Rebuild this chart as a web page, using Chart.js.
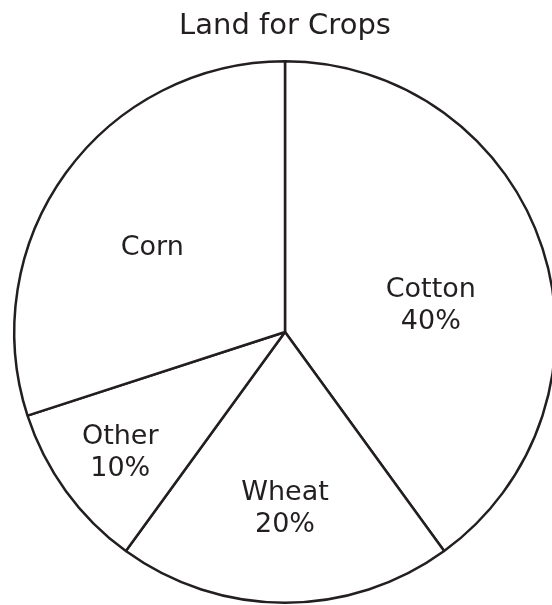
<!DOCTYPE html>
<html>
<head>
<meta charset="utf-8">
<script src="https://cdn.jsdelivr.net/npm/chart.js@4"></script>
<style>
  html, body { margin: 0; padding: 0; background: #fff; overflow: hidden; }
  #wrap { width: 570px; height: 605px; }
</style>
</head>
<body>
<div id="wrap"><canvas id="cropChart" width="570" height="605"></canvas></div>
<script>
// data
const crops = ['Cotton', 'Wheat', 'Other', 'Corn'];
const shares = [40, 20, 10, 30];
const showPercent = [true, true, true, false];

// label placement: shift from the slice's middle angle (deg) and distance as part of the radius
const labelShift = [7.9, 0, -0.4, -3.7];
const labelRadius = [0.547, 0.655, 0.756, 0.58];

const ink = '#231f20';

// draw the slice names inside the pie
const sliceLabels = {
    id: 'sliceLabels',
    afterDatasetsDraw(chart) {
        const ctx = chart.ctx;
        const arcs = chart.getDatasetMeta(0).data;
        ctx.save();
        ctx.fillStyle = ink;
        ctx.font = '27px "DejaVu Sans"';
        ctx.textAlign = 'center';
        ctx.textBaseline = 'middle';
        arcs.forEach(function (arc, i) {
            const p = arc.getProps(['x', 'y', 'startAngle', 'endAngle', 'outerRadius'], true);
            const mid = (p.startAngle + p.endAngle) / 2 + labelShift[i] * Math.PI / 180;
            const r = p.outerRadius * labelRadius[i];
            const x = p.x + Math.cos(mid) * r;
            const y = p.y + Math.sin(mid) * r;
            if (showPercent[i]) {
                ctx.fillText(crops[i], x, y - 16);
                ctx.fillText(shares[i] + '%', x, y + 16);
            } else {
                ctx.fillText(crops[i], x, y);
            }
        });
        ctx.restore();
    }
};

new Chart(document.getElementById('cropChart').getContext('2d'), {
    type: 'pie',
    data: {
        labels: crops,
        datasets: [{
            data: shares,
            backgroundColor: '#ffffff',
            borderColor: ink,
            borderWidth: 2.5,
            borderAlign: 'center'
        }]
    },
    options: {
        responsive: false,
        animation: false,
        events: [],
        layout: { padding: { left: 13, right: 13, top: 0, bottom: 1 } },
        plugins: {
            legend: { display: false },
            tooltip: { enabled: false },
            title: {
                display: true,
                text: 'Land for Crops',
                color: ink,
                font: { family: '"DejaVu Sans"', size: 29, weight: 'normal', lineHeight: 1.2 },
                padding: { top: 9, bottom: 16.2 }
            }
        }
    },
    plugins: [sliceLabels]
});
</script>
</body>
</html>
